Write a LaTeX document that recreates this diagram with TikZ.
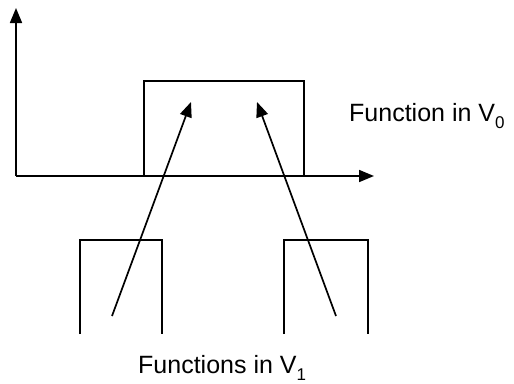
\documentclass[tikz,border=0pt]{standalone}
\usepackage{fontspec}
\setmainfont{Liberation Sans}
\usetikzlibrary{arrows.meta, positioning}
\tikzset{
  ln/.style={line width=1.7pt, black},
  arr/.style={line width=1.7pt, -{Triangle[length=15pt,width=12pt]}},
  lbl/.style={font=\fontsize{25}{28}\selectfont, inner sep=0pt, anchor=base west},
}
\newcommand{\subidx}[1]{{\fontsize{17}{17}\selectfont\raisebox{-7pt}{#1}}}

\begin{document}
\begin{tikzpicture}[x=1pt, y=-1pt]
  \useasboundingbox (0,0) rectangle (514,383);
  % axes
  \coordinate (org) at (16,176);
  \coordinate (ytip) at (16,8);
  \coordinate (xtip) at (374,176);
  \draw[arr] (org) -- (ytip);
  \draw[arr] (org) -- (xtip);
  % function in V0
  \draw[ln] (144,176) -- (144,81) -- (304,81) -- (304,176);
  % functions in V1
  \draw[ln] (80,334) -- (80,240) -- (162,240) -- (162,334);
  \draw[ln] (284,334) -- (284,240) -- (368,240) -- (368,334);
  % arrows
  \coordinate (lfoot) at (112,316);
  \coordinate (lhead) at (191,102);
  \coordinate (rfoot) at (336,316);
  \coordinate (rhead) at (257,102);
  \draw[arr] (lfoot) -- (lhead);
  \draw[arr] (rfoot) -- (rhead);
  % labels
  \node[lbl] (v0) at (349,121) {Function in V\subidx{0}};
  \node[lbl] (v1) at (138,373) {Functions in V\subidx{1}};
\end{tikzpicture}
\end{document}
